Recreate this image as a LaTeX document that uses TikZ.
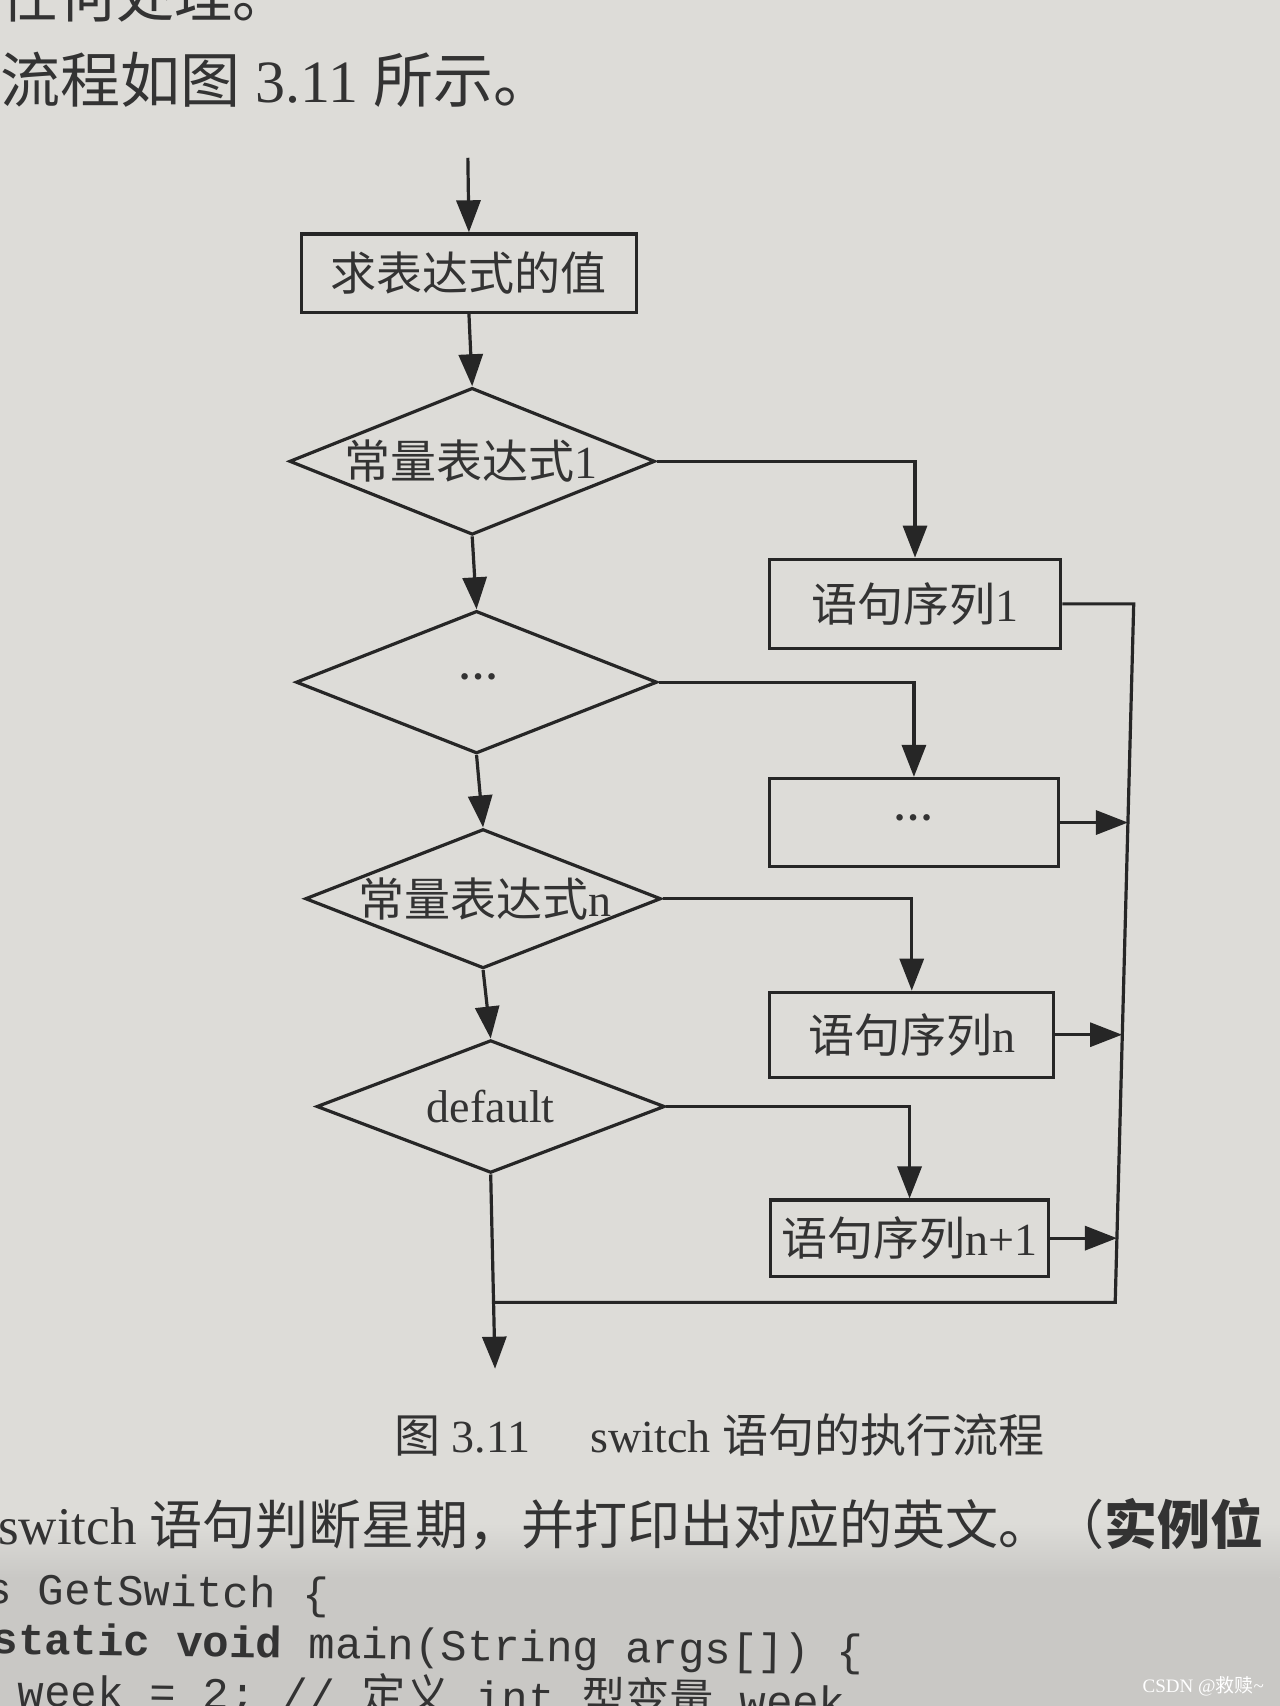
\documentclass[tikz,border=0pt]{standalone}
\usepackage{fontspec}
\setmainfont{Liberation Serif}
\newfontfamily\cjk{Noto Sans CJK SC}
\newfontfamily\codefont{Liberation Mono}
\usetikzlibrary{arrows.meta,shapes.geometric}
\def\unitpx{0.5438pt}
\definecolor{paper}{HTML}{DDDCD8}
\definecolor{paperdark}{HTML}{C9C8C5}
\definecolor{ink}{HTML}{262626}
\definecolor{txt}{HTML}{333333}
\tikzset{
  box/.style={draw=ink, line width=1.6pt, rectangle, inner sep=0pt},
  dia/.style={draw=ink, line width=1.6pt, diamond, inner sep=0pt},
  lbl/.style={inner sep=0pt, text=txt, font=\fontsize{23pt}{26pt}\selectfont},
  conn/.style={draw=ink, line width=1.6pt},
  arr/.style={conn, -{Triangle[width=12pt,length=16pt]}},
  body/.style={inner sep=0pt, text=txt, anchor=base west},
}
\begin{document}
\begin{tikzpicture}[x=0.5438pt,y=-0.5438pt]
\useasboundingbox (0,0) rectangle (1176,1568);
\fill[paper] (0,0) rectangle (1176,1568);
\shade[top color=paper, bottom color=paperdark] (0,1400) rectangle (1176,1450);
\fill[paperdark] (0,1450) rectangle (1176,1568);
\clip (0,0) rectangle (1176,1568);

% surrounding page text
\node[body, font=\fontsize{29pt}{32pt}\selectfont] (top0) at (0,16) {{\cjk 任何处理。}};
\node[body, font=\fontsize{30pt}{33pt}\selectfont] (top1) at (0,94) {{\cjk 流程如图} 3.11 {\cjk 所示。}};

% flowchart nodes
\coordinate (start) at (430,145);
\node[box, minimum width=308*\unitpx, minimum height=72*\unitpx] (b0) at (431,251) {};
\node[lbl] (tb0) at (431,251) {\cjk 求表达式的值};

\node[dia, minimum width=336*\unitpx, minimum height=135*\unitpx] (d1) at (434,424) {};
\node[lbl] (td1) at (433,424) {{\cjk 常量表达式}1};
\node[dia, minimum width=332*\unitpx, minimum height=131*\unitpx] (d2) at (438,627) {};
\node[lbl, font=\bfseries\fontsize{20pt}{22pt}\selectfont] (td2) at (440,622) {…};
\node[dia, minimum width=327*\unitpx, minimum height=128*\unitpx] (d3) at (444,826) {};
\node[lbl] (td3) at (446,826) {{\cjk 常量表达式}n};
\node[dia, minimum width=320*\unitpx, minimum height=122*\unitpx] (d4) at (451,1017) {};
\node[lbl] (td4) at (451,1017) {default};

\node[box, minimum width=268*\unitpx, minimum height=82*\unitpx] (s1) at (841,555) {};
\node[lbl] (ts1) at (841,555) {{\cjk 语句序列}1};
\node[box, minimum width=265*\unitpx, minimum height=81*\unitpx] (s2) at (840,756) {};
\node[lbl, font=\bfseries\fontsize{20pt}{22pt}\selectfont] (ts2) at (840,752) {…};
\node[box, minimum width=261*\unitpx, minimum height=78*\unitpx] (s3) at (838,951) {};
\node[lbl] (ts3) at (838,951) {{\cjk 语句序列}n};
\node[box, minimum width=256*\unitpx, minimum height=70*\unitpx] (s4) at (836,1138) {};
\node[lbl] (ts4) at (836,1138) {{\cjk 语句序列}n+1};

\coordinate (bt) at (1042,555);
\coordinate (bb) at (1025,1197);
\coordinate (a2) at (1036.7,756);
\coordinate (a3) at (1031.3,951);
\coordinate (a4) at (1026.6,1138);
\coordinate (jn) at (455,1197);
\coordinate (end) at (455,1258);

% connectors
\draw[arr] (start) -- (b0.north);
\draw[arr] (b0.south) -- (d1.north);
\draw[arr] (d1.south) -- (d2.north);
\draw[arr] (d2.south) -- (d3.north);
\draw[arr] (d3.south) -- (d4.north);
\draw[arr] (d4.south) -- (end);
\draw[arr] (d1.east) -| (s1.north);
\draw[arr] (d2.east) -| (s2.north);
\draw[arr] (d3.east) -| (s3.north);
\draw[arr] (d4.east) -| (s4.north);
\draw[conn, line join=miter] (s1.east) -- (bt) -- (bb) -- (jn);
\draw[arr] (s2.east) -- (a2);
\draw[arr] (s3.east) -- (a3);
\draw[arr] (s4.east) -- (a4);

% caption
\node[lbl, anchor=base west] (cap) at (362,1335) {{\cjk 图} 3.11\hspace{1.3em}switch {\cjk 语句的执行流程}};

% following page text
\node[body, font=\fontsize{26.5pt}{30pt}\selectfont] (para) at (-2,1420) {switch {\cjk 语句判断星期，并打印出对应的英文。（\bfseries 实例位}};
\node[body, font=\codefont\fontsize{22pt}{24pt}\selectfont, rotate=-0.8] (c1) at (-14,1474) {s GetSwitch \{};
\node[body, font=\codefont\fontsize{22pt}{24pt}\selectfont, rotate=-0.8] (c2) at (-8,1520) {\textbf{static void} main(String args[]) \{};
\node[body, font=\codefont\fontsize{22pt}{24pt}\selectfont, rotate=-0.8] (c3) at (16,1568) {week = 2; // {\cjk 定义} int {\cjk 型变量} week};
\node[inner sep=0pt, text=white, font=\fontsize{9.5pt}{11pt}\selectfont] (wm) at (1106,1550) {CSDN @{\cjk 救赎}\textasciitilde};
\end{tikzpicture}
\end{document}
